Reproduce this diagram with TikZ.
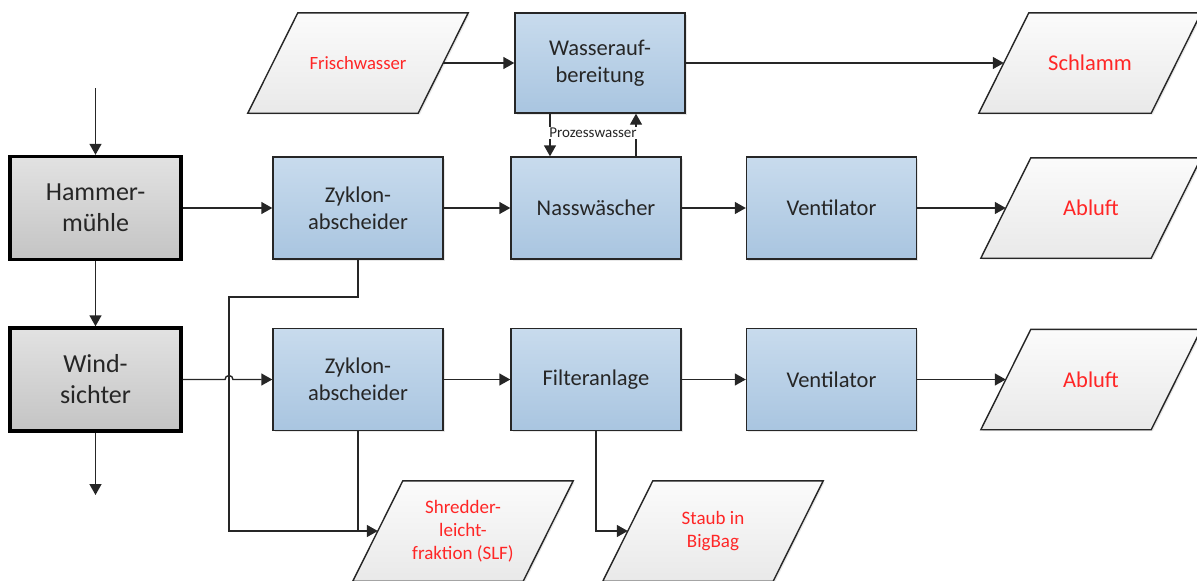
\documentclass[tikz,border=0pt]{standalone}
\usepackage{fontspec}
\setmainfont{Carlito}
\usetikzlibrary{arrows.meta,shadows}
\pgfdeclarelayer{bg}
\pgfsetlayers{bg,main}
\definecolor{bluetop}{HTML}{C8DBED}
\definecolor{bluebot}{HTML}{A9C5E0}
\definecolor{graytop}{HTML}{E2E2E2}
\definecolor{graybot}{HTML}{C4C4C4}
\definecolor{paratop}{HTML}{FBFBFB}
\definecolor{parabot}{HTML}{E9E9E9}
\definecolor{txt}{HTML}{262626}
\definecolor{redtxt}{HTML}{FF2626}
\definecolor{linec}{HTML}{262626}
\begin{document}
\begin{tikzpicture}[x=1pt,y=-1pt,
  shad/.style={drop shadow={opacity=0.18,shadow xshift=1.5pt,shadow yshift=-1.5pt}},
  proc/.style={draw=linec, line width=1.4pt, top color=bluetop, bottom color=bluebot,
    minimum width=170pt, minimum height=102pt, align=center, inner sep=0pt,
    font=\fontsize{22.5}{27}\selectfont, text=txt, shad},
  grayb/.style={draw=black, line width=3.4pt, top color=graytop, bottom color=graybot,
    minimum width=171pt, minimum height=103pt, align=center, inner sep=0pt,
    font=\fontsize{26}{31}\selectfont, text=txt, shad},
  para/.style={minimum width=170pt, minimum height=100pt, align=center, inner sep=0pt,
    font=\fontsize{22.5}{27}\selectfont, text=redtxt},
  parashape/.style={draw=linec, line width=1.4pt, top color=paratop, bottom color=parabot, shad},
  arr/.style={draw=linec, line width=1.4pt, -{Triangle[length=11pt,width=12pt]}},
  ln/.style={draw=linec, line width=1.4pt}
]
\useasboundingbox (0,0) rectangle (1197,581);

% process boxes
\node[grayb] (hammer) at (95.5,208) {Hammer-\\mühle};
\node[grayb] (wind) at (95.5,379.5) {Wind-\\sichter};
\node[proc] (zyk1) at (358,208) {Zyklon-\\abscheider};
\node[proc] (zyk2) at (358,379.5) {Zyklon-\\abscheider};
\node[proc] (nass) at (596,208) {Nasswäscher};
\node[proc] (filter) at (596,379.5) {Filteranlage};
\node[proc, minimum height=100pt] (wasser) at (600,63) {Wasserauf-\\bereitung};
\node[proc] (vent1) at (831.5,208) {Ventilator};
\node[proc] (vent2) at (831.5,379.5) {Ventilator};

% inputs / outputs
\node[para, font=\fontsize{18.7}{22.5}\selectfont] (frisch) at (358,63) {Frischwasser};
\node[para, minimum width=172pt] (schlamm) at (1090,63) {Schlamm};
\node[para] (abl1) at (1091,208) {Abluft};
\node[para] (abl2) at (1091,379.5) {Abluft};
\node[para, font=\fontsize{19}{22.8}\selectfont] (slf) at (463,531) {Shredder-\\leicht-\\fraktion (SLF)};
\node[para, font=\fontsize{19}{22.8}\selectfont] (staub) at (713,531) {Staub in\\BigBag};

\begin{pgfonlayer}{bg}
\foreach \n in {frisch,schlamm,abl1,abl2,slf,staub}{
  \path[parashape] ([xshift=25pt]\n.north west) -- ([xshift=25pt]\n.north east)
     -- ([xshift=-25pt]\n.south east) -- ([xshift=-25pt]\n.south west) -- cycle;
}
\end{pgfonlayer}

\coordinate (in) at (95.5,88);
\coordinate (out) at (95.5,495);
\coordinate (hop) at (229,379.5);
\coordinate (bend) at (229,297);

% connectors
\draw[arr] (in) -- (hammer.north);
\draw[arr] (hammer) -- (wind);
\draw[arr] (wind.south) -- (out);
\draw[arr] (hammer) -- (zyk1);
\draw[arr] (zyk1) -- (nass);
\draw[arr] (nass) -- (vent1);
\draw[arr] (vent1) -- (abl1);
\draw[arr] (wind.east) -- ([xshift=-4pt]hop) arc[start angle=180,end angle=0,radius=4pt] -- (zyk2.west);
\draw[arr] (zyk2) -- (filter);
\draw[arr] (filter) -- (vent2);
\draw[arr] (vent2) -- (abl2);
\draw[arr] (frisch) -- (wasser);
\draw[arr] (wasser) -- (schlamm);
\draw[arr] (zyk1.south) |- (bend) |- (slf.west);
\draw[ln] (zyk2.south) -- (zyk2.south |- slf.west);
\draw[arr] (filter.south) |- (staub.west);
\draw[arr] ([xshift=-50pt]wasser.south) -- ([xshift=-50pt]wasser.south |- nass.north);
\draw[arr] ([xshift=40pt]nass.north) -- ([xshift=40pt]nass.north |- wasser.south);
\node[fill=white, inner sep=1pt, font=\fontsize{15}{18}\selectfont, text=txt] (pw) at (593,133) {Prozesswasser};
\end{tikzpicture}
\end{document}
